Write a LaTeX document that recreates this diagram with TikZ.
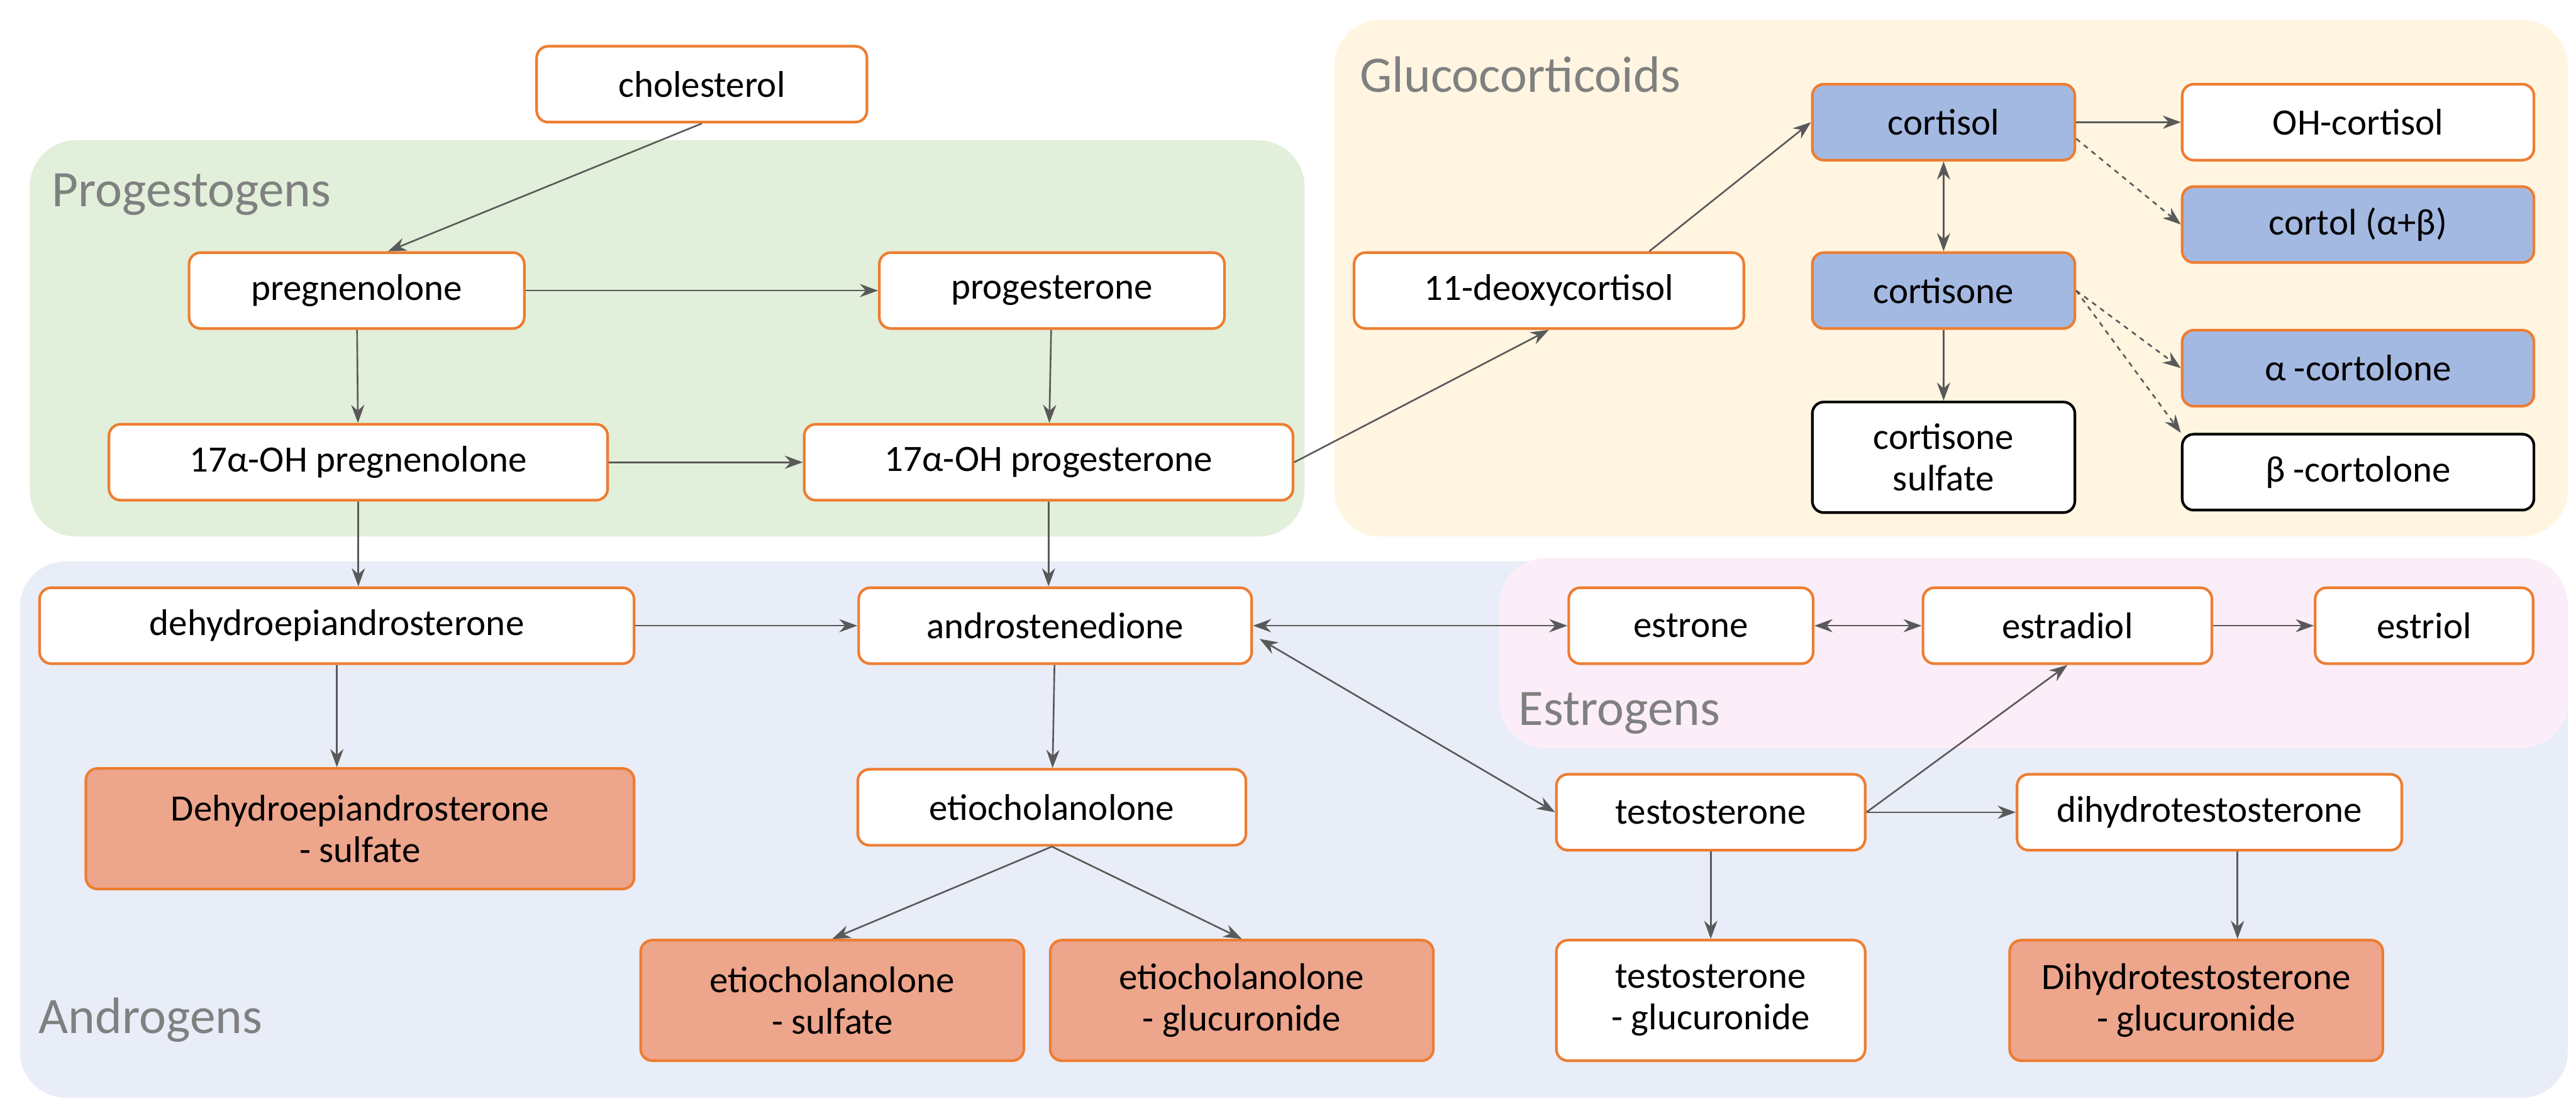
\documentclass[tikz,border=0pt]{standalone}
\usepackage{fontspec}
\setmainfont{Carlito}
\usetikzlibrary{arrows.meta}
\definecolor{org}{HTML}{ED7D31}
\definecolor{blu}{HTML}{A4B9E2}
\definecolor{sal}{HTML}{EDA58C}
\definecolor{arr}{HTML}{595959}
\definecolor{grn}{HTML}{E2EFDA}
\definecolor{yel}{HTML}{FFF5E1}
\definecolor{abg}{HTML}{E9EDF7}
\definecolor{pnk}{HTML}{FCEEF8}
\begin{document}
\begin{tikzpicture}[x=1pt,y=-1pt,
 box/.style={draw=org,line width=1.6pt,rounded corners=7pt,fill=white,minimum height=46pt,align=center,inner sep=2pt,font=\fontsize{22.5}{25}\selectfont},
 bl/.style={box,fill=blu},
 sa/.style={box,fill=sal,minimum height=73pt},
 tw/.style={minimum height=73pt},
 kb/.style={draw=black},
 region/.style={rounded corners=28pt},
 rl/.style={anchor=west,text=gray,font=\fontsize{31}{34}\selectfont},
 a/.style={draw=arr,line width=1pt,-{Stealth[length=11pt,width=8pt]}},
 ab/.style={a,{Stealth[length=11pt,width=8pt]}-{Stealth[length=11pt,width=8pt]}},
 ad/.style={a,dashed}]
\useasboundingbox (0,0) rectangle (1560,672.6);
\fill[grn,region] (18,85) rectangle (790,325);
\fill[yel,region] (808,12) rectangle (1555,325);
\fill[abg,region] (12,340) rectangle (1555,665);
\fill[pnk,region] (908,338) rectangle (1555,453);
\node[rl] (lp) at (28,118) {Progestogens};
\node[rl] (lg) at (820,45) {Glucocorticoids};
\node[rl] (la) at (20,618) {Androgens};
\node[rl] (le) at (916,432) {Estrogens};

\node[box,minimum width=200pt] (chol) at (425,51) {cholesterol};
\node[box,minimum width=203pt] (preg) at (216,176) {pregnenolone};
\node[box,minimum width=209pt] (prog) at (637,176) {progesterone};
\node[box,minimum width=302pt] (hpreg) at (217,280) {17α-OH pregnenolone};
\node[box,minimum width=296pt] (hprog) at (635,280) {17α-OH progesterone};
\node[box,minimum width=236pt] (deox) at (938,176) {11-deoxycortisol};
\node[bl,minimum width=159pt] (cortisol) at (1177,74) {cortisol};
\node[box,minimum width=213pt] (ohc) at (1428,74) {OH-cortisol};
\node[bl,minimum width=213pt] (cortol) at (1428,136) {cortol (α+β)};
\node[bl,minimum width=159pt] (cortisone) at (1177,176) {cortisone};
\node[bl,minimum width=213pt] (acort) at (1428,223) {α -cortolone};
\node[box,kb,minimum width=159pt,minimum height=67pt] (csul) at (1177,277) {cortisone\\sulfate};
\node[box,kb,minimum width=213pt] (bcort) at (1428,286) {β -cortolone};
\node[box,minimum width=360pt] (dhea) at (204,379) {dehydroepiandrosterone};
\node[box,minimum width=238pt] (andro) at (639,379) {androstenedione};
\node[box,minimum width=148pt] (estrone) at (1024,379) {estrone};
\node[box,minimum width=175pt] (estradiol) at (1252,379) {estradiol};
\node[box,minimum width=132pt] (estriol) at (1468,379) {estriol};
\node[sa,minimum width=332pt] (dheas) at (218,502) {Dehydroepiandrosterone\\- sulfate};
\node[box,minimum width=235pt] (etio) at (637,489) {etiocholanolone};
\node[box,minimum width=187pt] (testo) at (1036,492) {testosterone};
\node[box,minimum width=233pt] (dht) at (1338,492) {dihydrotestosterone};
\node[sa,minimum width=232pt] (etios) at (504,606) {etiocholanolone\\- sulfate};
\node[sa,minimum width=232pt] (etiog) at (752,606) {etiocholanolone\\- glucuronide};
\node[box,tw,minimum width=187pt] (testog) at (1036,606) {testosterone\\- glucuronide};
\node[sa,minimum width=226pt] (dhtg) at (1330,606) {Dihydrotestosterone\\- glucuronide};

\draw[a] (chol.south) -- (preg.north -| 235,0);
\draw[a] (preg) -- (prog);
\draw[a] (preg) -- (hpreg);
\draw[a] (prog) -- (hprog);
\draw[a] (hpreg) -- (hprog);
\draw[a] (hprog.east) -- (deox.south);
\draw[a] (deox.north east) ++(-58,0) -- (cortisol.west);
\draw[a] (cortisol) -- (ohc);
\draw[ab] (cortisol) -- (cortisone);
\draw[ad] (cortisol.east) ++(0,10) -- (cortol.west);
\draw[ad] (cortisone.east) -- (acort.west);
\draw[ad] (cortisone.east) -- (bcort.north west);
\draw[a] (cortisone) -- (csul);
\draw[a] (hpreg) -- (hpreg |- dhea.north);
\draw[a] (hprog) -- (hprog |- andro.north);
\draw[a] (dhea) -- (andro);
\draw[ab] (andro) -- (estrone);
\draw[ab] (estrone) -- (estradiol);
\draw[a] (estradiol) -- (estriol);
\draw[ab] (andro.east) ++(4,8) -- (testo.west);
\draw[a] (dhea) -- (dhea |- dheas.north);
\draw[a] (andro) -- (etio);
\draw[a] (etio.south) -- (etios.north);
\draw[a] (etio.south) -- (etiog.north);
\draw[a] (testo.east) -- (estradiol.south);
\draw[a] (testo) -- (dht);
\draw[a] (testo) -- (testog);
\draw[a] (dht.south -| 1355,0) -- (dhtg.north -| 1355,0);
\end{tikzpicture}
\end{document}
